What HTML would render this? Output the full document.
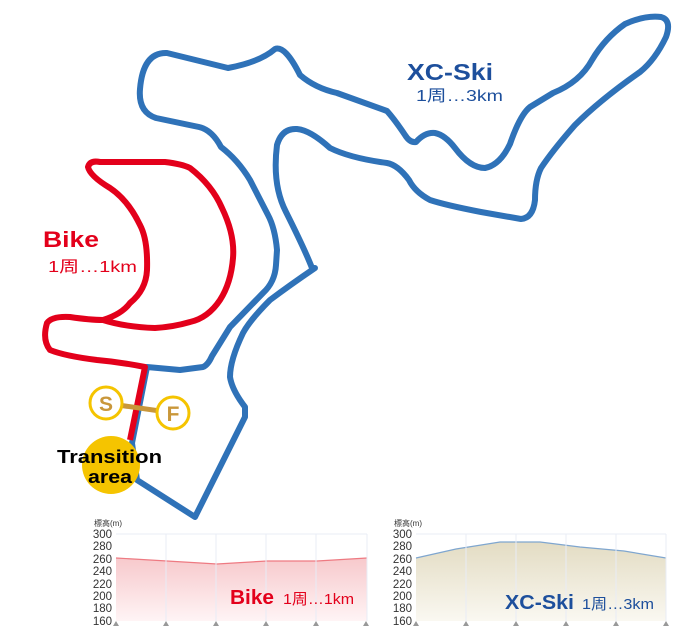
<!DOCTYPE html>
<html><head><meta charset="utf-8"><style>
html,body{margin:0;padding:0;background:#fff;}
svg{display:block;font-family:"Liberation Sans","Noto Sans CJK JP",sans-serif;}
</style></head><body>
<svg width="682" height="630" viewBox="0 0 682 630" xmlns="http://www.w3.org/2000/svg">
<defs>
<linearGradient id="gp" x1="0" y1="0" x2="0" y2="1"><stop offset="0" stop-color="#f7c9cc"/><stop offset="1" stop-color="#fff4f5"/></linearGradient>
<linearGradient id="gb" x1="0" y1="0" x2="0" y2="1"><stop offset="0" stop-color="#e3dcc3"/><stop offset="1" stop-color="#faf8f1"/></linearGradient>
</defs>
<!-- blue track -->
<path d="M147,367 L180,370 L203,367 Q208,365 212,356 L230,327 L263,293 Q275,282 276,265 L277,250 Q275,228 268,215 L250,180 Q238,160 221,147 Q212,130 199,127 L156,118 Q138,112 140,89 Q143,52 167,53 L228,68 Q260,62 275,49 Q285,45 300,75 Q315,88 337,93 L387,111 Q395,120 405,135 Q410,143 416,142 Q425,132 435,133 Q445,135 455,148 Q470,168 485,168 Q500,165 510,144 Q520,115 530,107 L553,93 Q580,82 592,60 Q605,38 625,24 Q645,15 661,17 Q672,20 666,37 Q655,60 640,72 Q600,100 575,125 Q553,150 541,168 Q535,180 535,200 Q533,218 521,219 L481,212 Q445,205 430,200 Q415,192 409,180 Q398,165 387,163 Q350,158 330,148 Q310,130 297,129 Q282,128 277,145 Q272,185 286,212 Q305,250 312,268 L315,268 Q290,285 270,300 Q250,320 243,333 Q230,360 230,377 Q232,390 245,407 L245,417 L195,517 L137,480 L132,443 Z" fill="none" stroke="#2f72b8" stroke-width="6" stroke-linejoin="round"/>
<!-- red track -->
<path d="M130,440 L145,367 Q120,362 97,360 Q65,356 50,350 Q42,340 47,323 Q52,316 70,317 Q90,320 103,320 Q122,314 130,303 Q146,290 147,270 Q148,240 140,225 Q128,200 110,188 Q90,176 88,167 Q90,160 100,162 L165,162 Q182,164 190,168 Q212,185 222,208 Q235,235 233,258 Q231,283 220,300 Q208,318 190,322 Q173,327 155,328 Q125,327 103,320" fill="none" stroke="#e3001b" stroke-width="6" stroke-linejoin="round"/>
<!-- labels -->
<text x="43" y="247" font-size="22" font-weight="bold" fill="#e3001b" textLength="56" lengthAdjust="spacingAndGlyphs">Bike</text>
<text x="48" y="272" font-size="16" fill="#e3001b" textLength="89" lengthAdjust="spacingAndGlyphs">1周…1km</text>
<text x="407" y="80" font-size="23" font-weight="bold" fill="#1d4f9c" textLength="86" lengthAdjust="spacingAndGlyphs">XC-Ski</text>
<text x="416" y="101" font-size="16" fill="#1d4f9c" textLength="87" lengthAdjust="spacingAndGlyphs">1周…3km</text>
<!-- S-F -->
<line x1="118" y1="405" x2="160" y2="411" stroke="#c9973a" stroke-width="5"/>
<circle cx="106" cy="403" r="16" fill="#fff" stroke="#f5c400" stroke-width="3"/>
<text x="106" y="411" font-size="21" font-weight="bold" fill="#c9973a" text-anchor="middle">S</text>
<circle cx="173" cy="413" r="16" fill="#fff" stroke="#f5c400" stroke-width="3"/>
<text x="173" y="421" font-size="21" font-weight="bold" fill="#c9973a" text-anchor="middle">F</text>
<circle cx="111" cy="465" r="29" fill="#f5c400"/>
<text x="57" y="463" font-size="18" font-weight="bold" fill="#000" textLength="105" lengthAdjust="spacingAndGlyphs">Transition</text>
<text x="88" y="483" font-size="18" font-weight="bold" fill="#000" textLength="44" lengthAdjust="spacingAndGlyphs">area</text>
<!-- chart left -->
<g font-size="11.5" fill="#333">
<text x="94" y="526" font-size="8">標高(m)</text>
<path d="M116,558 L167,561 L217,564 L267,561 L317,561 L367,558 L367,621 L116,621 Z" fill="url(#gp)"/>
<path d="M116,558 L167,561 L217,564 L267,561 L317,561 L367,558" fill="none" stroke="#ee7a82" stroke-width="1.2"/>
<g stroke="#e8ecf6" stroke-width="1"><line x1="116" y1="534" x2="367" y2="534"/><line x1="166" y1="534" x2="166" y2="621"/><line x1="216" y1="534" x2="216" y2="621"/><line x1="266" y1="534" x2="266" y2="621"/><line x1="316" y1="534" x2="316" y2="621"/><line x1="367" y1="534" x2="367" y2="621"/></g>
<g text-anchor="end"><text x="112" y="538">300</text><text x="112" y="550">280</text><text x="112" y="563">260</text><text x="112" y="575">240</text><text x="112" y="588">220</text><text x="112" y="600">200</text><text x="112" y="612">180</text><text x="112" y="625">160</text></g>
<g fill="#999"><path d="M113,626 l3,-5 l3,5z"/><path d="M163,626 l3,-5 l3,5z"/><path d="M213,626 l3,-5 l3,5z"/><path d="M263,626 l3,-5 l3,5z"/><path d="M313,626 l3,-5 l3,5z"/><path d="M363,626 l3,-5 l3,5z"/></g>
<text x="230" y="604" font-size="20" font-weight="bold" fill="#e3001b" textLength="44" lengthAdjust="spacingAndGlyphs">Bike</text>
<text x="283" y="604" font-size="15" fill="#e3001b" textLength="71" lengthAdjust="spacingAndGlyphs">1周…1km</text>
</g>
<!-- chart right -->
<g font-size="11.5" fill="#333">
<text x="394" y="526" font-size="8">標高(m)</text>
<path d="M416,558 L456,549 L500,542 L540,542 L580,547 L624,551 L666,558 L666,621 L416,621 Z" fill="url(#gb)"/>
<path d="M416,558 L456,549 L500,542 L540,542 L580,547 L624,551 L666,558" fill="none" stroke="#7fa6cf" stroke-width="1.2"/>
<g stroke="#e8ecf6" stroke-width="1"><line x1="416" y1="534" x2="666" y2="534"/><line x1="466" y1="534" x2="466" y2="621"/><line x1="516" y1="534" x2="516" y2="621"/><line x1="566" y1="534" x2="566" y2="621"/><line x1="616" y1="534" x2="616" y2="621"/><line x1="666" y1="534" x2="666" y2="621"/></g>
<g text-anchor="end"><text x="412" y="538">300</text><text x="412" y="550">280</text><text x="412" y="563">260</text><text x="412" y="575">240</text><text x="412" y="588">220</text><text x="412" y="600">200</text><text x="412" y="612">180</text><text x="412" y="625">160</text></g>
<g fill="#999"><path d="M413,626 l3,-5 l3,5z"/><path d="M463,626 l3,-5 l3,5z"/><path d="M513,626 l3,-5 l3,5z"/><path d="M563,626 l3,-5 l3,5z"/><path d="M613,626 l3,-5 l3,5z"/><path d="M663,626 l3,-5 l3,5z"/></g>
<text x="505" y="609" font-size="20" font-weight="bold" fill="#1d4f9c" textLength="69" lengthAdjust="spacingAndGlyphs">XC-Ski</text>
<text x="582" y="609" font-size="15" fill="#1d4f9c" textLength="72" lengthAdjust="spacingAndGlyphs">1周…3km</text>
</g>
</svg>
</body></html>
